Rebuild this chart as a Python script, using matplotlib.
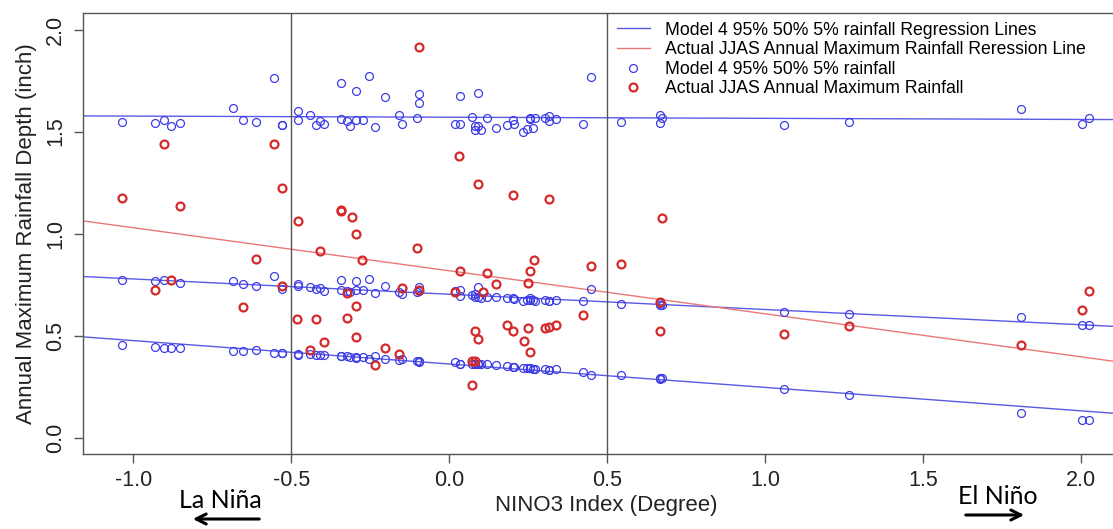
import matplotlib
matplotlib.use("Agg")
import matplotlib.pyplot as plt

plt.rcParams['font.family'] = ['Liberation Sans', 'DejaVu Sans']

# NINO3 index of each year (model quantiles share these x values)
nino3 = [-1.036, -0.931, -0.904, -0.879, -0.853, -0.685, -0.651, -0.612, -0.555, -0.530,
         -0.530, -0.478, -0.478, -0.439, -0.421, -0.408, -0.396, -0.342, -0.342, -0.323,
         -0.315, -0.296, -0.296, -0.273, -0.254, -0.236, -0.204, -0.160, -0.151, -0.103,
         -0.095, -0.095, 0.018, 0.034, 0.034, 0.071, 0.081, 0.081, 0.092, 0.092,
         0.099, 0.118, 0.148, 0.182, 0.201, 0.205, 0.234, 0.245, 0.255, 0.255,
         0.264, 0.271, 0.303, 0.316, 0.316, 0.338, 0.424, 0.447, 0.544, 0.667,
         0.667, 0.673, 1.059, 1.264, 1.808, 2.003, 2.025]
q95 = [1.545, 1.540, 1.559, 1.527, 1.541, 1.616, 1.559, 1.545, 1.763, 1.532,
       1.534, 1.603, 1.556, 1.582, 1.530, 1.553, 1.536, 1.738, 1.561, 1.553,
       1.527, 1.559, 1.701, 1.558, 1.771, 1.522, 1.668, 1.583, 1.536, 1.569,
       1.641, 1.683, 1.535, 1.538, 1.673, 1.572, 1.527, 1.507, 1.691, 1.527,
       1.507, 1.569, 1.519, 1.533, 1.556, 1.536, 1.497, 1.514, 1.569, 1.561,
       1.520, 1.565, 1.567, 1.551, 1.577, 1.564, 1.535, 1.768, 1.546, 1.579,
       1.540, 1.569, 1.530, 1.546, 1.613, 1.536, 1.569]
q50 = [0.774, 0.769, 0.773, 0.773, 0.758, 0.768, 0.752, 0.745, 0.794, 0.742,
       0.729, 0.753, 0.742, 0.737, 0.730, 0.732, 0.717, 0.771, 0.724, 0.717,
       0.712, 0.766, 0.722, 0.722, 0.779, 0.709, 0.742, 0.716, 0.704, 0.712,
       0.737, 0.717, 0.717, 0.722, 0.696, 0.701, 0.688, 0.704, 0.737, 0.690,
       0.685, 0.688, 0.688, 0.685, 0.685, 0.680, 0.668, 0.676, 0.685, 0.673,
       0.676, 0.672, 0.676, 0.672, 0.672, 0.676, 0.668, 0.729, 0.655, 0.652,
       0.660, 0.649, 0.616, 0.608, 0.589, 0.553, 0.553]
q05 = [0.452, 0.445, 0.440, 0.440, 0.440, 0.426, 0.426, 0.429, 0.416, 0.416,
       0.414, 0.410, 0.406, 0.408, 0.406, 0.406, 0.406, 0.398, 0.398, 0.398,
       0.395, 0.395, 0.390, 0.395, 0.388, 0.398, 0.385, 0.380, 0.384, 0.377,
       0.375, 0.372, 0.371, 0.362, 0.359, 0.359, 0.362, 0.362, 0.359, 0.359,
       0.359, 0.362, 0.354, 0.351, 0.348, 0.348, 0.343, 0.343, 0.340, 0.340,
       0.338, 0.335, 0.335, 0.330, 0.332, 0.335, 0.323, 0.307, 0.307, 0.289,
       0.294, 0.294, 0.239, 0.208, 0.123, 0.089, 0.089]

# actual JJAS annual maximum rainfall
act_x = [-1.036, -0.931, -0.904, -0.879, -0.853, -0.651, -0.612, -0.555, -0.530, -0.530,
         -0.481, -0.477, -0.439, -0.422, -0.409, -0.397, -0.342, -0.342, -0.323, -0.323,
         -0.307, -0.296, -0.294, -0.294, -0.275, -0.236, -0.204, -0.160, -0.148, -0.103,
         -0.095, -0.095, 0.018, 0.030, 0.034, 0.071, 0.071, 0.081, 0.081, 0.092,
         0.092, 0.106, 0.118, 0.148, 0.182, 0.201, 0.203, 0.236, 0.248, 0.248,
         0.255, 0.257, 0.268, 0.303, 0.316, 0.316, 0.338, 0.424, 0.447, 0.544,
         0.667, 0.667, 0.673, 1.059, 1.264, 1.808, 2.003, 2.025]
act_y = [1.173, 0.724, 1.437, 0.773, 1.133, 0.639, 0.877, 1.439, 1.225, 0.742,
         0.582, 1.064, 0.432, 0.582, 0.914, 0.470, 1.116, 1.112, 0.709, 0.585,
         1.082, 0.644, 1.000, 0.494, 0.872, 0.354, 0.440, 0.410, 0.732, 0.929,
         0.725, 1.914, 0.716, 1.380, 0.815, 0.257, 0.375, 0.375, 0.525, 0.484,
         1.242, 0.713, 0.809, 0.753, 0.550, 1.188, 0.522, 0.476, 0.538, 0.758,
         0.818, 0.421, 0.869, 0.538, 0.543, 1.170, 0.553, 0.600, 0.839, 0.851,
         0.664, 0.522, 1.077, 0.506, 0.548, 0.455, 0.624, 0.721]

# regression lines (intercept at NINO3 = 0, slope)
model_icpt = [1.5706, 0.703, 0.361]
model_slope = [-0.0055, -0.0749, -0.1148]
act_icpt = 0.818
act_slope = -0.211

blue_pt = '#3c3ce6'
blue_ln = '#5a5ae6'
red_pt = '#d42a2a'
red_ln = '#ea7878'

fig = plt.figure(figsize=(11.13, 5.29), dpi=100)
ax = fig.add_axes([0.0748, 0.1418, 0.9402, 0.8331])

for b, m in zip(model_icpt, model_slope):
    hl_model = ax.axline((0, b), slope=m, color=blue_ln, lw=1.0)
hl_act = ax.axline((0, act_icpt), slope=act_slope, color=red_ln, lw=1.0)

ax.axvline(-0.5, color='#555555', lw=1.0)
ax.axvline(0.5, color='#555555', lw=1.0)

for q in (q95, q50, q05):
    hp_model, = ax.plot(nino3, q, 'o', ms=5.7, mfc='none', mec=blue_pt, mew=0.9, ls='none')
hp_act, = ax.plot(act_x, act_y, 'o', ms=5.7, mfc='none', mec=red_pt, mew=1.6, ls='none')

ax.set_xlim(-1.158, 2.153)
ax.set_ylim(-0.08, 2.08)
ax.set_xticks([-1.0, -0.5, 0.0, 0.5, 1.0, 1.5, 2.0])
ax.set_yticks([0.0, 0.5, 1.0, 1.5, 2.0])
ax.set_xticklabels(['-1.0', '-0.5', '0.0', '0.5', '1.0', '1.5', '2.0'])
ax.set_yticklabels(['0.0', '0.5', '1.0', '1.5', '2.0'])
for s in ax.spines.values():
    s.set_color('#555555')
    s.set_linewidth(1.0)
ax.tick_params(axis='both', direction='out', length=6.5, width=1.0, color='#555555',
               labelsize=15.5, labelcolor='#222222')
ax.tick_params(axis='x', pad=5)
ax.tick_params(axis='y', pad=6)
for lab in ax.get_yticklabels():
    lab.set_rotation(90)
    lab.set_va('center')

ax.set_xlabel('NINO3 Index (Degree)', fontsize=16, color='#222222', labelpad=3)
ax.set_ylabel('Annual Maximum Rainfall Depth (inch)', fontsize=16, color='#222222', labelpad=6)

ax.legend([hl_model, hl_act, hp_model, hp_act],
          ['Model 4 95% 50% 5% rainfall Regression Lines',
           'Actual JJAS Annual Maximum Rainfall Reression Line',
           'Model 4 95% 50% 5% rainfall',
           'Actual JJAS Annual Maximum Rainfall'],
          loc='upper left', bbox_to_anchor=(613 / 1113, 1 - 18 / 529),
          bbox_transform=fig.transFigure, frameon=False, fontsize=12.7,
          handlelength=1.9, handletextpad=0.85, labelspacing=0.15, borderpad=0.2,
          borderaxespad=0)

fig.text(220 / 1113, 29 / 529, 'La Niña', fontsize=18, family=['Lato', 'DejaVu Sans'],
         ha='center', va='center')
fig.text(998 / 1113, 32 / 529, 'El Niño', fontsize=18, family=['Lato', 'DejaVu Sans'],
         ha='center', va='center')
fig.add_artist(matplotlib.patches.FancyArrowPatch((262 / 1113, 10 / 529), (190 / 1113, 10 / 529),
               transform=fig.transFigure, arrowstyle='->', mutation_scale=18, lw=2.2, color='black'))
fig.add_artist(matplotlib.patches.FancyArrowPatch((963 / 1113, 14 / 529), (1027 / 1113, 14 / 529),
               transform=fig.transFigure, arrowstyle='->', mutation_scale=18, lw=2.2, color='black'))

fig.savefig('out.png', dpi=100)
